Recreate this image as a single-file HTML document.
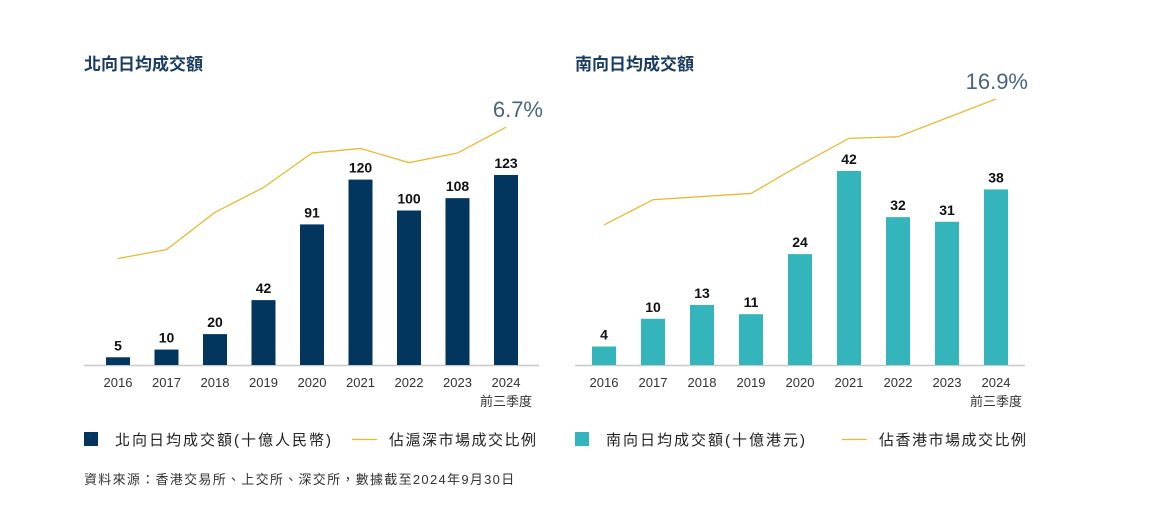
<!DOCTYPE html>
<html><head><meta charset="utf-8">
<style>
body{margin:0;background:#fff;width:1154px;height:506px;overflow:hidden;font-family:"Liberation Sans","Noto Sans CJK TC",sans-serif;}
svg text{font-family:"Liberation Sans","Noto Sans CJK TC",sans-serif;}
</style></head>
<body>
<svg id="c" width="1154" height="506"></svg>
<script>
const years=["2016","2017","2018","2019","2020","2021","2022","2023","2024"];
const northVals=[5,10,20,42,91,120,100,108,123];
const northShare=[3.0,3.25,4.3,5.0,5.97,6.1,5.7,5.97,6.7];
const southVals=[4,10,13,11,24,42,32,31,38];
const southShare=[8.9,10.5,10.7,10.9,12.7,14.4,14.5,15.7,16.9];
const NS="http://www.w3.org/2000/svg";
const svg=document.getElementById('c');
function mk(tag,attrs,txt){const e=document.createElementNS(NS,tag);for(const k in attrs)e.setAttribute(k,attrs[k]);if(txt!==undefined)e.textContent=txt;svg.appendChild(e);return e;}
const base=365;
function panel(p){
  const x=i=>p.x0+i*p.step;
  const yb=v=>base-v*p.barK;
  const yl=v=>base-v*p.lineK;
  let t=mk('text',{x:p.titleX,y:70,'font-size':17,'font-weight':'bold',fill:'#1b3d63'},p.title);
  
  
  let ax=mk('line',{x1:p.axL,x2:p.axR,y1:base+0.5,y2:base+0.5,stroke:'#c8c8c8','stroke-width':1.5});
  
  
  p.vals.forEach((v,i)=>{
    let r=mk('rect',{x:x(i)-12,y:yb(v),width:24,height:v*p.barK,fill:p.color});
    
    
    let l=mk('text',{x:x(i),y:yb(v)-7,'text-anchor':'middle','font-size':14,'font-weight':'bold',fill:'#111'},String(v));
    
    
    let yt=mk('text',{x:x(i),y:387,'text-anchor':'middle','font-size':13,fill:'#333'},years[i]);
    
    
  });
  let q=mk('text',{x:x(8),y:406,'text-anchor':'middle','font-size':13,fill:'#333'},'前三季度');
  
  
  const pts=p.share.map((v,i)=>x(i)+','+yl(v)).join(' ');
  let pl=mk('polyline',{points:pts,fill:'none',stroke:'#e9b934','stroke-width':1.3});
  
  
  const last=p.share[p.share.length-1];
  let pc=mk('text',{x:x(8)+p.pctDx,y:yl(last)-10,'text-anchor':'end','font-size':22,fill:'#4a6480'},last.toFixed(1)+'%');
  
  
  let sw=mk('rect',{x:p.legX,y:432,width:14,height:14,fill:p.color});
  
  
  let lt=mk('text',{x:p.legX+31,y:445,'font-size':15,fill:'#222','letter-spacing':'2px'},p.legBar);
  
  
  let ll=mk('line',{x1:p.legLineX,x2:p.legLineX+25,y1:439.5,y2:439.5,stroke:'#e9b934','stroke-width':1.3});
  
  
  let lt2=mk('text',{x:p.legLineX+37,y:445,'font-size':15,fill:'#222','letter-spacing':'1.5px'},p.legLine);
  
  
}
panel({id:'north',title:'北向日均成交額',titleX:84,x0:118,step:48.5,axL:84,axR:539,barK:1.545,lineK:35.5,vals:northVals,share:northShare,color:'#03365f',legX:84,legBar:'北向日均成交額(十億人民幣)',legLineX:352,legLine:'佔滬深市場成交比例',pctDx:37});
panel({id:'south',title:'南向日均成交額',titleX:575,x0:604,step:49,axL:575,axR:1025,barK:4.62,lineK:15.74,vals:southVals,share:southShare,color:'#33b5bb',legX:575,legBar:'南向日均成交額(十億港元)',legLineX:842,legLine:'佔香港市場成交比例',pctDx:32});
let src=mk('text',{x:84,y:484,'font-size':13,fill:'#333','letter-spacing':'1.3px'},'資料來源：香港交易所、上交所、深交所，數據截至2024年9月30日');


</script>
</body></html>
